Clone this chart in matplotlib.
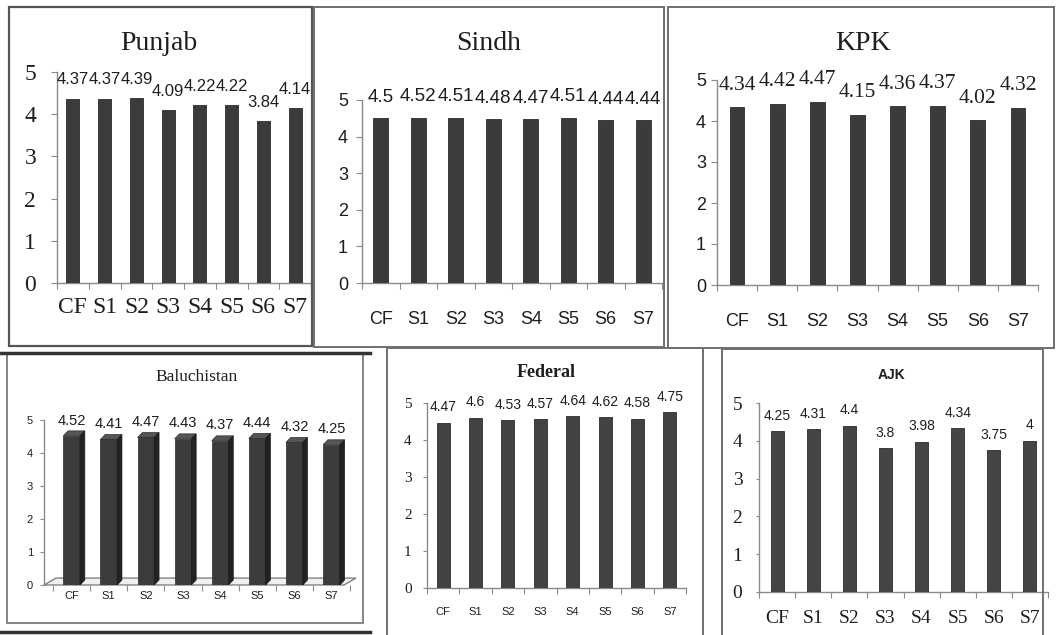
import matplotlib
matplotlib.use("Agg")
import matplotlib.pyplot as plt
from matplotlib.patches import Rectangle, Polygon
from matplotlib.lines import Line2D
import numpy as np

categories = ["CF", "S1", "S2", "S3", "S4", "S5", "S6", "S7"]
punjab = [4.37, 4.37, 4.39, 4.09, 4.22, 4.22, 3.84, 4.14]
sindh = [4.5, 4.52, 4.51, 4.48, 4.47, 4.51, 4.44, 4.44]
kpk = [4.34, 4.42, 4.47, 4.15, 4.36, 4.37, 4.02, 4.32]
baluchistan = [4.52, 4.41, 4.47, 4.43, 4.37, 4.44, 4.32, 4.25]
federal = [4.47, 4.6, 4.53, 4.57, 4.64, 4.62, 4.58, 4.75]
ajk = [4.25, 4.31, 4.4, 3.8, 3.98, 4.34, 3.75, 4.0]
y_ticks = [0, 1, 2, 3, 4, 5]

W, H = 1056, 635
SERIF = "Liberation Serif"
SANS = "Liberation Sans"
TXT = "#1e1e1e"
AXC = "#8a8a8a"

fig = plt.figure(figsize=(W / 100, H / 100), dpi=100)
fig.patch.set_facecolor("white")


def frac(x0, y0, x1, y1):
    return [x0 / W, 1 - y1 / H, (x1 - x0) / W, (y1 - y0) / H]


def frame(x0, y0, x1, y1, color="#707070", lw=1.4):
    fig.add_artist(Rectangle((x0 / W, 1 - y1 / H), (x1 - x0) / W, (y1 - y0) / H,
                             transform=fig.transFigure, fill=False,
                             edgecolor=color, linewidth=lw, clip_on=False))


def hline(y, x0, x1, color="#333333", lw=2.5):
    fig.add_artist(Line2D([x0 / W, x1 / W], [1 - y / H, 1 - y / H],
                          transform=fig.transFigure, color=color, linewidth=lw))


def panel(values, box, title, title_pos, title_kw, bar_w, bar_color,
          xfont, xpad, yfont, ypad, ylen, lab_font, lab_off,
          xlim=(-0.5, 7.5), flat=True):
    ax = fig.add_axes(frac(*box))
    x = np.arange(len(categories))
    if flat:
        ax.bar(x, values, width=bar_w, color=bar_color,
               edgecolor="#2b2b2b", linewidth=0.6, zorder=3)
    ax.set_xlim(*xlim)
    ax.set_ylim(0, 5)
    ax.set_yticks(y_ticks)
    ax.set_yticklabels([str(t) for t in y_ticks], color=TXT, **yfont)
    ax.set_xticks(x)
    ax.set_xticklabels(categories, color=TXT, **xfont)
    ax.set_xticks(np.arange(len(categories) + 1) - 0.5, minor=True)
    ax.tick_params(axis="x", which="major", length=0, pad=xpad)
    ax.tick_params(axis="x", which="minor", length=4, color=AXC, width=0.8)
    ax.tick_params(axis="y", length=ylen, pad=ypad, color=AXC, width=0.8)
    for s in ("top", "right"):
        ax.spines[s].set_visible(False)
    for s in ("left", "bottom"):
        ax.spines[s].set_color(AXC)
        ax.spines[s].set_linewidth(1.0)
    ax.patch.set_alpha(0)
    for xi, v in zip(x, values):
        ax.annotate(f"{v:g}", (xi, v), xytext=(0, lab_off),
                    textcoords="offset points", ha="center", va="bottom",
                    color=TXT, annotation_clip=False, **lab_font)
    fig.text(title_pos[0] / W, 1 - title_pos[1] / H, title,
             ha="center", va="center", color=TXT, **title_kw)
    return ax


# ---- top row -------------------------------------------------------------
frame(9, 7, 312, 346, color="#555555", lw=1.6)
frame(314, 7, 664, 347)
frame(668, 7, 1054, 348)

panel(punjab, (57, 72, 311, 283), "Punjab", (159, 43),
      dict(fontfamily=SERIF, fontsize=20), 0.41, "#3b3b3b",
      dict(fontfamily=SERIF, fontsize=17), 10,
      dict(fontfamily=SERIF, fontsize=17), 11, 4,
      dict(fontfamily=SANS, fontsize=12), 8)

panel(sindh, (362, 100, 662, 283), "Sindh", (489, 43),
      dict(fontfamily=SERIF, fontsize=20), 0.40, "#3b3b3b",
      dict(fontfamily=SANS, fontsize=13), 20,
      dict(fontfamily=SANS, fontsize=13), 6, 4,
      dict(fontfamily=SANS, fontsize=13.5), 9)

panel(kpk, (717, 80, 1038, 285), "KPK", (863, 43),
      dict(fontfamily=SERIF, fontsize=20), 0.37, "#3b3b3b",
      dict(fontfamily=SANS, fontsize=13), 20,
      dict(fontfamily=SANS, fontsize=13), 4, 4,
      dict(fontfamily=SERIF, fontsize=15.5), 9)

# ---- bottom row ----------------------------------------------------------
frame(7, 353, 363, 623, color="#707070", lw=1.2)
hline(353, 0, 370)
hline(632, 0, 370)
frame(387, 348, 703, 645)
frame(722, 349, 1043, 645)

# Baluchistan: bars drawn with a simple 3-D look (front, top and side faces)
bal_lim = (-0.745, 7.39)
ax_b = panel(baluchistan, (44, 420, 350, 585), "Baluchistan", (197, 377),
             dict(fontfamily=SERIF, fontsize=12.5), 0.45, "#3a3a3a",
             dict(fontfamily=SANS, fontsize=8), 4,
             dict(fontfamily=SANS, fontsize=8), 5, 3,
             dict(fontfamily=SANS, fontsize=10.5), 6,
             xlim=bal_lim, flat=False)
ax_b.spines["bottom"].set_visible(False)
bw, dx, dy = 0.45, 0.13, 0.15
fx, fy = 0.32, 0.21
ax_b.add_patch(Polygon([(bal_lim[0], 0), (bal_lim[1] - 0.05, 0),
                        (bal_lim[1] - 0.05 + fx, fy), (bal_lim[0] + fx, fy)],
                       closed=True, facecolor="#f0f0f0", edgecolor="#777777",
                       linewidth=0.9, zorder=1, clip_on=False))
for xi, v in enumerate(baluchistan):
    ax_b.add_patch(Rectangle((xi - bw / 2, 0), bw, v, facecolor="#3c3c3c",
                             edgecolor="#2a2a2a", linewidth=0.5, zorder=3))
    ax_b.add_patch(Polygon([(xi - bw / 2, v), (xi + bw / 2, v),
                            (xi + bw / 2 + dx, v + dy), (xi - bw / 2 + dx, v + dy)],
                           closed=True, facecolor="#555555", edgecolor="#2a2a2a",
                           linewidth=0.5, zorder=3))
    ax_b.add_patch(Polygon([(xi + bw / 2, 0), (xi + bw / 2 + dx, dy),
                            (xi + bw / 2 + dx, v + dy), (xi + bw / 2, v)],
                           closed=True, facecolor="#222222", edgecolor="#1a1a1a",
                           linewidth=0.5, zorder=3))

panel(federal, (427, 403, 686, 588), "Federal", (546, 372),
      dict(fontfamily=SERIF, fontsize=13, fontweight="bold"), 0.40, "#424242",
      dict(fontfamily=SANS, fontsize=8), 14,
      dict(fontfamily=SERIF, fontsize=11), 8, 3,
      dict(fontfamily=SANS, fontsize=10), 6)

panel(ajk, (759, 403, 1048, 592), "AJK", (892, 375),
      dict(fontfamily=SANS, fontsize=10, fontweight="bold"), 0.36, "#454545",
      dict(fontfamily=SERIF, fontsize=14), 13,
      dict(fontfamily=SERIF, fontsize=14), 10, 2,
      dict(fontfamily=SANS, fontsize=10), 6)

fig.savefig("out.png", dpi=100, facecolor="white")
